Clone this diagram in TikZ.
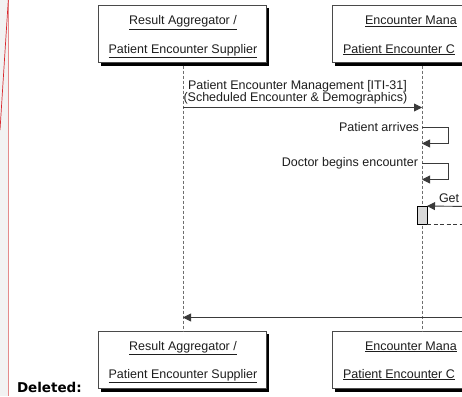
\documentclass[tikz,border=0pt]{standalone}
\usepackage{fontspec}
\setmainfont{Liberation Sans}
\newfontfamily\markfont{DejaVu Sans}
\usetikzlibrary{arrows.meta}

\definecolor{margingray}{HTML}{F2F2F2}
\definecolor{boxline}{HTML}{4A4A4A}
\definecolor{lifegray}{HTML}{6E6E6E}
\definecolor{msgline}{HTML}{3A3A3A}
\definecolor{actfill}{HTML}{D9D9D9}
\definecolor{barpink}{HTML}{E48A8A}
\definecolor{barred}{HTML}{D8282E}
\definecolor{inktext}{HTML}{1E1E1E}

\begin{document}
\begin{tikzpicture}[x=1pt,y=-1pt,
  every node/.style={inner sep=0pt, outer sep=0pt},
  txt/.style={font=\fontsize{12.5}{14}\selectfont, text=inktext},
  rolebox/.style={draw=boxline, fill=white, line width=0.8pt,
    minimum width=168pt, minimum height=57pt},
  boxshadow/.style={fill=black},
  lifeline/.style={draw=lifegray, line width=0.8pt, dash pattern=on 3pt off 2pt},
  msg/.style={draw=msgline, line width=0.9pt, -{Triangle[length=8pt,width=8pt]}},
  ret/.style={draw=msgline, line width=0.9pt, dash pattern=on 4pt off 2.5pt},
  actbox/.style={draw=black, fill=actfill, line width=0.8pt}
]
\useasboundingbox (0,0) rectangle (462,396);
\fill[white] (0,0) rectangle (462,396);
\fill[margingray] (0,0) rectangle (8.3,396);

% margin change bars
\draw[barpink, line width=0.9pt] (8.3,0) -- (8.3,396);
\draw[barred, line width=0.7pt] (8.3,0) -- (0,130);
\node[anchor=base west, font=\markfont\bfseries\fontsize{13.5}{15}\selectfont] (deleted) at (17,392) {Deleted:};

\begin{scope}
\clip (8.5,0) rectangle (462,396);

% solid drop shadows, offset down and right of each box
\fill[boxshadow] (101,8) rectangle (269,65.5);
\fill[boxshadow] (335,8) rectangle (515,65.5);
\fill[boxshadow] (101,334) rectangle (269,391.5);
\fill[boxshadow] (335,334) rectangle (515,391.5);

% participant boxes
\node[rolebox] (aggTop) at (182,33.5) {};
\node[rolebox, minimum width=180pt] (conTop) at (422,33.5) {};
\node[rolebox] (aggBot) at (182,359.5) {};
\node[rolebox, minimum width=180pt] (conBot) at (422,359.5) {};

\node[txt, anchor=base] (aggTopA) at (183,25) {\underline{Result Aggregator /}};
\node[txt, anchor=base] (aggTopB) at (183,53) {\underline{Patient Encounter Supplier}};
\node[txt, anchor=base west] (conTopA) at (365,25) {\underline{Encounter Mana}};
\node[txt, anchor=base west] (conTopB) at (343,53) {\underline{Patient Encounter C}};
\node[txt, anchor=base] (aggBotA) at (183,350) {\underline{Result Aggregator /}};
\node[txt, anchor=base] (aggBotB) at (183,378) {\underline{Patient Encounter Supplier}};
\node[txt, anchor=base west] (conBotA) at (365,350) {\underline{Encounter Mana}};
\node[txt, anchor=base west] (conBotB) at (343,378) {\underline{Patient Encounter C}};

% lifelines
\coordinate (aggL1) at (183,65.5);
\coordinate (aggL2) at (183,331);
\coordinate (conL1) at (422,65.5);
\coordinate (conL2) at (422,331);
\draw[lifeline] (aggL1) -- (aggL2);
\draw[lifeline] (conL1) -- (conL2);

% Patient Encounter Management message
\coordinate (m1s) at (183,107.5);
\coordinate (m1e) at (422,107.5);
\draw[msg] (m1s) -- (m1e);
\node[txt, anchor=base west] (m1labA) at (188,89.5) {Patient Encounter Management [ITI-31]};
\node[txt, anchor=base west] (m1labB) at (183.5,101) {(Scheduled Encounter \& Demographics)};

% self messages on the consumer lifeline
\coordinate (sa1) at (422,127.5);
\coordinate (sa2) at (422,143.5);
\draw[msg] (sa1) -- ++(26,0) |- (sa2);
\node[txt, anchor=base east] (salab) at (419,131) {Patient arrives};

\coordinate (sb1) at (422,163.5);
\coordinate (sb2) at (422,179.5);
\draw[msg] (sb1) -- ++(26,0) |- (sb2);
\node[txt, anchor=base east] (sblab) at (418,166) {Doctor begins encounter};

% incoming request with activation bar
\node[actbox, minimum width=10pt, minimum height=18pt] (act) at (422,215) {};
\coordinate (getS) at (470,206.5);
\coordinate (retE) at (470,224);
\draw[msg] (getS) -- (act.north east);
\draw[ret] (act.south east) -- (retE);
\node[txt, anchor=base west] (getlab) at (439,202.5) {Get};

% message returning to the supplier
\coordinate (backS) at (470,317.5);
\coordinate (backE) at (183,317.5);
\draw[msg] (backS) -- (backE);
\end{scope}
\end{tikzpicture}
\end{document}
